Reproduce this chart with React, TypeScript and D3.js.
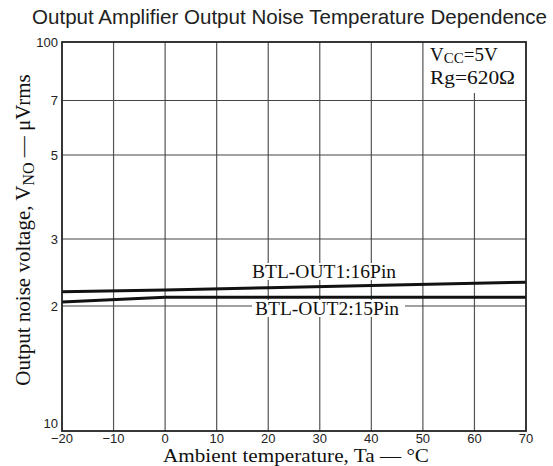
import React from "react";
import * as d3 from "d3";

const temps1 = [-20, 0, 20, 40, 70];
const out1 = [21.8, 22.05, 22.35, 22.65, 23.1];
const temps2 = [-20, 0, 20, 40, 70];
const out2 = [20.5, 21.1, 21.1, 21.1, 21.1];
const xTicks = [-20, -10, 0, 10, 20, 30, 40, 50, 60, 70];
const yTickVals = [10, 20, 30, 50, 70, 100];
const yTickLabels = ["10", "2", "3", "5", "7", "100"];
const yGridVals = [20, 30, 50, 70];

const W = 553;
const H = 466;
const L = 62, R = 526, T = 42, B = 431;

export default function App() {
  const x = d3.scaleLinear().domain([-20, 70]).range([L, R]);
  // scanned datasheet axis: log scale, piecewise through the printed gridlines
  const y = d3.scaleLog().domain([10, 20, 30, 50, 70, 100]).range([B, 306, 239, 155, 100.5, T]);
  const line = d3.line<[number, number]>().x(d => x(d[0])).y(d => y(d[1]));
  const d1 = line(temps1.map((t, i) => [t, out1[i]]) as [number, number][]) || "";
  const d2 = line(temps2.map((t, i) => [t, out2[i]]) as [number, number][]) || "";
  const serif = "'Liberation Serif', 'Times New Roman', serif";
  const sans = "'Liberation Sans', Arial, sans-serif";
  return (
    <svg width={W} height={H} style={{ position: "absolute", left: 0, top: 0, background: "#fff" }}>
      <rect x={0} y={0} width={W} height={H} fill="#fff" />
      <text x={32} y={24} fontFamily={sans} fontSize={20.4} fill="#222" textLength={515} lengthAdjust="spacingAndGlyphs">
        Output Amplifier Output Noise Temperature Dependence
      </text>
      {/* grid */}
      {xTicks.slice(1, -1).map(t => (
        <line key={"vx" + t} x1={x(t)} x2={x(t)} y1={T} y2={B} stroke="#555" strokeWidth={1.2} />
      ))}
      {yGridVals.map(v => (
        <line key={"hy" + v} x1={L} x2={R} y1={y(v)} y2={y(v)} stroke="#444" strokeWidth={1.2} />
      ))}
      {/* annotation background */}
      <rect x={427} y={T + 1} width={R - 428} height={50} fill="#fff" />
      <text x={430} y={61} fontFamily={serif} fontSize={19} fill="#111">
        V<tspan fontSize={15} dy={2}>CC</tspan><tspan dy={-2}>=5V</tspan>
      </text>
      <text x={430} y={84} fontFamily={serif} fontSize={19} fill="#111" textLength={85} lengthAdjust="spacingAndGlyphs">Rg=620Ω</text>
      {/* data lines */}
      <path d={d1} fill="none" stroke="#111" strokeWidth={3} />
      <path d={d2} fill="none" stroke="#111" strokeWidth={3} />
      {/* labels */}
      <rect x={250} y={263} width={149} height={17} fill="#fff" />
      <text x={252} y={278} fontFamily={serif} fontSize={19.5} fill="#111">BTL-OUT1:16Pin</text>
      <rect x={252} y={300} width={153} height={17} fill="#fff" />
      <text x={255} y={315} fontFamily={serif} fontSize={19.5} fill="#111">BTL-OUT2:15Pin</text>
      {/* frame */}
      <rect x={L} y={T} width={R - L} height={B - T} fill="none" stroke="#222" strokeWidth={1.8} />
      {/* tick labels */}
      {xTicks.map(t => (
        <text key={"xt" + t} x={x(t)} y={443} textAnchor="middle" fontFamily={sans} fontSize={13} fill="#222">
          {t < 0 ? "\u2212" + Math.abs(t) : String(t)}
        </text>
      ))}
      {yTickVals.map((v, i) => (
        <text key={"yt" + v} x={58} y={v === 10 ? y(v) - 8 : y(v)} dy="0.35em" textAnchor="end" fontFamily={sans} fontSize={13} fill="#222">
          {yTickLabels[i]}
        </text>
      ))}
      {/* axis titles */}
      <text x={163} y={462} fontFamily={serif} fontSize={18} fill="#111" textLength={266} lengthAdjust="spacingAndGlyphs">
        Ambient temperature, Ta — °C
      </text>
      <text transform="translate(30,230) rotate(-90)" textAnchor="middle" fontFamily={serif} fontSize={21} fill="#111">
        Output noise voltage, V<tspan fontSize={16} dy={4}>NO</tspan><tspan dy={-4}> — μVrms</tspan>
      </text>
    </svg>
  );
}
